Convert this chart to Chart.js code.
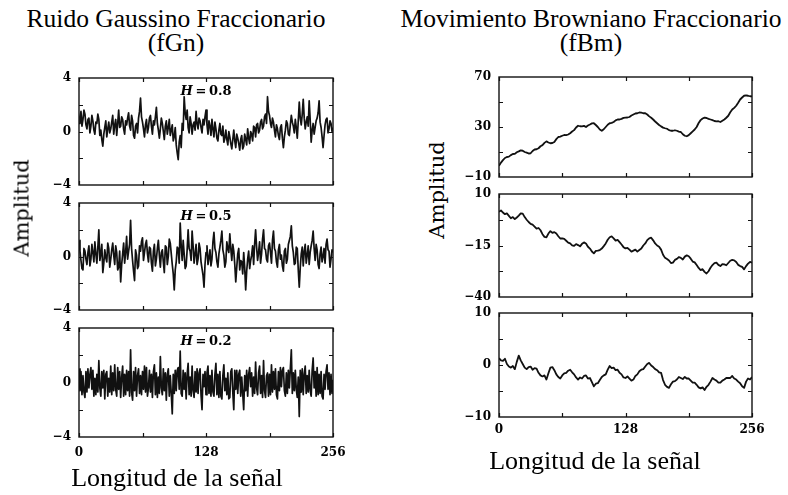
<!DOCTYPE html>
<html><head><meta charset="utf-8">
<script src="https://cdn.jsdelivr.net/npm/chart.js@4"></script>
<style>
html,body{margin:0;padding:0;background:#fff;}
body{width:788px;height:495px;position:relative;overflow:hidden;}
canvas{position:absolute;}
.t{position:absolute;font-family:'Liberation Serif','Times New Roman',serif;color:#000;white-space:nowrap;}
.title{font-size:25.5px;line-height:24px;text-align:center;transform:translateX(-50%);}
.xl{font-size:26px;line-height:26px;transform:translateX(-50%);}
.yl{font-family:'DejaVu Serif',serif;font-size:21px;line-height:21px;transform:translate(-50%,-50%) rotate(-90deg);}
.h{font-family:'DejaVu Serif',serif;font-weight:bold;font-size:13px;line-height:13px;transform:translate(-50%,-50%);}
</style></head><body>
<script>
// ---- data ----
const fgnStep = 1;   // sample spacing of the noise arrays
const fbmStep = 2;   // sample spacing of the fBm arrays
const xTickLabels = [0, 128, 256];
const xMinorTicks = [0, 64, 128, 192, 256];
const hurstLabels = ['0.8', '0.5', '0.2'];

const fgnH08 = [
 0.6,1.1, 1.5,0.4, 0.9,1.6, 1.3,0.5, 0.2,0.9, 1.0,-0.1, 0.4,1.2, 0.8,0.1, -0.2,0.7, 0.6,1.3, 0.9,-0.3, 0.1,-0.6, -1.1,-0.2, 0.3,0.8, -0.4,0.2, 0.7,-0.1,
 0.2,0.7, 1.2,-0.2, 0.5,0.9, -0.3,0.6, 1.6,0.3, 0.4,1.1, 0.9,0.2, -0.2,0.8, 0.5,1.0, 1.4,0.4, 0.1,1.2, 0.8,-0.3, -0.5,0.4, 0.6,-0.1, 1.0,1.5, 2.5,1.1,
 0.7,0.2, -0.4,0.5, 0.9,-0.1, 0.3,1.0, 1.2,0.4, -0.2,0.8, 0.5,1.1, 1.8,0.6, 0.1,-0.5, 0.2,1.0, 0.6,0.0, -0.6,0.4, 0.8,-0.2, 0.3,0.9, -0.3,0.1, 0.5,-0.7,
 -0.4,0.3, -1.0,-1.6, -2.1,-0.8, -0.3,-1.2, 0.6,0.1, 2.6,1.4, 0.9,1.6, 0.3,-0.1, 1.1,0.6, -0.2,0.5, 0.7,0.1, 1.5,0.6, 0.2,1.0, 0.8,0.3, -0.1,0.9, 0.5,1.1,
 1.6,0.5, -0.2,0.8, 0.4,-0.3, 0.9,0.2, -0.4,0.7, 0.2,-0.5, -0.7,0.1, 0.6,-0.2, -0.3,0.4, -0.8,-0.5, 0.1,-0.6, -1.0,0.0, -0.4,-0.9, -1.3,-0.6, 0.1,-0.7, -1.2,-0.2,
 -0.5,-0.9, -1.4,-0.6, -0.3,-1.3, -1.1,-0.2, -0.6,-1.0, 0.2,-0.5, -0.9,0.0, -0.2,-0.7, 0.4,0.3, -0.4,0.5, 0.6,-0.1, 0.1,0.7, 0.9,0.2, 0.4,1.1, 1.3,0.6, 2.6,1.5,
 1.2,0.6, 0.3,1.0, 0.7,0.1, -0.4,0.5, 0.2,-0.3, -0.6,0.3, 0.5,-0.5, -1.2,-0.4, 0.1,0.8, 0.6,-0.2, -0.3,0.5, 1.2,0.7, 0.4,-0.1, 0.9,0.3, -0.5,0.8, 2.2,1.0,
 0.5,1.3, 2.4,1.0, 0.2,0.7, 1.1,0.4, 2.3,0.9, -0.8,0.1, 0.6,-0.2, 0.3,0.8, 1.0,1.4, 2.3,0.7, 0.3,-0.4, -1.2,-0.3, 0.5,0.9, 1.0,-0.1, 0.2,0.8, 0.6,0.0,
 0.3
];
const fgnH05 = [
 1.2,0.4, -0.3,-0.9, -1.0,0.6, 0.4,-0.2, -0.6,0.3, 0.8,-0.7, -0.2,0.9, 0.3,-0.4, 1.1,0.2, -0.5,0.7, 2.0,-0.3, 0.2,0.9, -1.2,-0.5, 0.5,-0.1, -0.4,1.0, 0.6,-0.8,
 -0.2,0.5, 1.0,0.1, -0.6,0.8, 0.3,-1.0, -0.8,0.4, -1.9,-0.6, 0.2,1.0, -0.5,0.3, 1.5,-0.2, 0.4,0.9, 2.7,0.6, -0.3,-1.1, -1.8,0.5, 0.1,-0.9, -0.7,0.8, 0.4,1.1,
 1.4,-0.3, 0.3,0.9, 1.2,0.2, -0.4,0.7, 0.6,-0.5, -1.1,0.4, 0.9,-0.7, -0.2,0.6, 1.2,0.1, -0.8,0.3, 0.5,-0.4, -1.2,0.8, 0.7,-0.6, 0.0,1.3, 1.0,0.2, -0.6,-1.3,
 -2.5,-1.0, -0.4,0.7, 0.6,-0.5, 2.5,0.8, -0.3,1.2, 0.2,-0.9, -0.7,0.5, 2.0,0.6, 0.4,-0.3, 1.9,0.8, -0.5,0.2, 0.9,-0.6, -0.2,1.0, 0.6,-0.4, -0.9,-1.4, -2.3,-0.6,
 0.3,0.8, -0.6,-0.1, 0.5,-0.7, -0.2,1.1, 1.8,0.6, 0.3,-0.4, -0.8,0.2, 0.7,1.2, 1.9,0.5, 0.1,-0.8, -0.4,1.1, 0.6,0.3, 1.7,0.6, -0.3,0.9, 0.4,-0.6, -1.9,-0.8,
 0.2,0.6, -1.0,-0.3, -0.4,-1.3, 0.3,-0.8, -2.5,-1.1, -0.2,0.4, -0.9,-0.3, 0.1,0.8, -0.6,0.9, 2.0,0.7, -0.3,0.3, 1.1,-0.5, 0.2,1.3, 2.0,0.6, 0.5,-0.2, -0.4,0.8,
 1.0,0.3, -0.5,1.2, 1.9,0.6, 0.4,-0.4, -0.8,0.5, 0.9,-0.2, 0.1,-0.7, -1.1,0.4, 0.6,-0.5, -0.2,0.9, 1.2,1.5, 2.3,0.8, 0.3,-0.6, -0.5,0.7, 0.6,-1.0, -2.3,-0.8,
 0.2,0.7, -0.7,0.4, 0.9,-0.5, 0.1,0.8, -0.6,0.3, 0.8,1.2, 1.9,0.6, -0.3,0.9, 0.5,-0.6, -0.9,0.2, 0.7,-0.4, 0.0,0.6, -0.5,0.9, 1.3,0.5, 0.4,-0.8, -0.2,0.5,
 0.3
];
const fgnH02 = [
 1.0,-0.6, 0.8,-0.9, 0.5,-0.7, -1.1,0.8, -0.7,1.0, -0.4,0.6, 1.1,-0.5, 0.9,-1.0, 0.3,-0.9, 0.6,-0.7, 1.6,-0.4, -1.0,0.8, -0.4,0.9, -1.2,0.6, 0.8,-1.0, 0.3,-0.7,
 1.2,-0.9, 0.7,-0.6, 1.3,-0.5, -1.0,1.1, -0.5,0.8, -1.1,0.4, 1.2,-1.0, 0.6,-0.9, 0.9,-0.6, 0.8,-1.0, 2.4,-0.7, -1.3,0.8, -0.6,1.1, -1.0,0.5, 1.0,-0.8, 0.5,-0.9,
 0.8,-0.5, 1.2,-0.7, 1.1,-1.0, -0.4,0.9, -0.7,0.6, -1.1,0.8, 1.3,-0.9, 0.7,-1.1, 0.4,-0.8, 1.9,-0.4, -0.9,1.0, -0.6,0.7, -1.3,0.6, 1.0,-1.0, 0.5,-0.8, -2.3,0.6,
 -0.8,0.9, -0.6,0.9, 1.1,-0.5, 2.3,-0.8, -1.0,0.9, -0.5,0.7, -1.2,0.6, 1.4,-0.9, 0.4,-1.0, 1.2,-0.6, -1.1,0.8, -0.7,1.0, -0.8,0.7, 1.0,-0.9, -2.0,0.6, -0.3,0.8,
 -0.9,0.7, 1.2,-0.8, 0.5,-1.0, 0.9,-0.7, -1.0,0.6, 1.4,-0.9, 0.6,-1.1, 0.8,-1.0, -1.2,0.5, 1.3,-0.6, 0.3,-0.9, 0.7,-1.2, -1.1,0.8, 1.0,-0.7, -2.0,0.9, -0.5,0.9,
 -0.8,0.6, 0.9,-1.0, 0.4,-0.8, -2.0,0.5, -0.6,0.9, -1.0,0.6, 1.1,-0.3, 0.7,-1.0, 0.4,-0.8, 1.5,-0.4, -0.9,0.7, 1.2,-0.8, 0.5,-1.1, 1.6,-0.6, -1.1,0.5, 0.7,-1.0,
 0.6,-0.9, 1.3,-0.7, 0.8,-0.5, 1.0,-0.9, -1.2,0.8, -0.6,1.1, -0.3,0.9, 1.1,-0.6, -1.0,0.7, -0.8,0.9, -0.4,1.0, 2.4,-0.8, 0.7,-0.6, 0.9,-0.5, -1.1,0.4, -2.5,0.9,
 -0.7,1.0, -0.9,0.6, 1.2,-0.8, 0.5,-0.7, 0.9,-0.6, -1.0,0.9, 1.8,-0.4, 0.8,-1.0, 1.1,-0.9, 0.6,-0.8, 0.8,-1.0, -1.2,0.6, -0.5,0.8, 1.3,-0.5, 0.7,-0.9, 0.6,-0.8,
 0.2
];
const fbmH08 = [
 -1,1.5, 3.5,5.2, 6,6.3, 7.5,8.4, 8.5,9.8, 10.5,11.3, 11,10.0, 9.5,8.8, 9,10.8, 12,12.2, 13,14.6, 15.5,17.3, 18.5,17.6, 17,17.2, 18,20.3, 22,22.3,
 23,23.6, 23.5,24.0, 25,26.4, 27.5,29.6, 31,30.6, 30.5,30.9, 30,31.2, 32,32.9, 33,31.6, 30,28.0, 27,28.2, 30,31.8, 33,33.3, 34,35.3, 36,36.0, 36.5,37.3,
 37.5,37.6, 38,39.2, 40,40.8, 41,41.6, 41.5,41.0, 41,40.0, 38.5,37.4, 36,34.4, 33,31.6, 30.5,29.5, 29,28.6, 27.5,27.0, 27,27.4, 27,26.3, 26,24.2, 23,22.6,
 23.5,25.0, 26.5,28.0, 30,33.2, 35.5,36.8, 37.5,37.2, 36.5,36.0, 35.5,34.8, 34.5,34.6, 34,35.0, 36,37.4, 39,41.8, 44,45.3, 47,49.4, 52,53.6, 55,55.3, 55,54.6,
 54.5
];
const fbmH05 = [
 1.4,2.0, 1.0,0.2, 0.6,-0.6, -1.8,-1.2, -2.2,-1.4, -0.5,0.6, 0.5,-1.2, -2.5,-3.6, -4.5,-4.9, -5.8,-6.8, -6.5,-7.6, -9.5,-10.8, -11.0,-9.2, -8.0,-8.9, -8.5,-9.2, -10.5,-11.6,
 -11.5,-11.8, -12.7,-13.6, -14.0,-14.9, -15.2,-14.3, -14.8,-15.4, -14.2,-13.5, -14.0,-15.6, -16.5,-17.9, -18.8,-17.6, -17.5,-17.2, -16.5,-15.3, -14.0,-12.2, -11.0,-10.6, -11.5,-12.6, -12.3,-13.4, -14.5,-15.8,
 -16.4,-16.2, -17.0,-18.0, -17.5,-17.0, -18.0,-17.2, -16.5,-15.0, -14.0,-12.4, -11.5,-11.2, -12.5,-14.0, -15.0,-15.6, -17.0,-19.5, -21.0,-21.6, -22.3,-23.5, -23.3,-22.0, -21.5,-20.6, -21.0,-21.8, -20.4,-19.8,
 -20.2,-21.4, -22.8,-23.2, -24.5,-25.9, -26.9,-26.5, -27.8,-28.6, -27.5,-25.8, -24.5,-23.6, -23.3,-24.4, -25.0,-24.0, -24.2,-24.6, -23.5,-22.4, -22.0,-22.2, -23.0,-24.4, -25.0,-25.4, -26.6,-25.0, -23.8,-23.0,
 -23.3
];
const fbmH02 = [
 1.3,0.9, 0.8,1.2, 0.2,-0.3, -0.5,-0.2, -0.8,0.6, 1.8,0.9, 0.2,-0.5, -0.8,-0.4, -0.3,-0.9, -0.6,-0.7, -1.5,-2.0, -2.2,-2.0, -2.8,-1.6, -0.5,-0.4, -1.0,-1.8, -2.3,-2.6,
 -2.0,-1.6, -1.5,-1.1, -0.9,-1.4, -1.8,-2.4, -2.8,-2.4, -2.6,-2.1, -2.0,-2.6, -2.5,-3.3, -4.1,-3.6, -3.5,-2.9, -2.3,-2.0, -1.8,-0.9, -0.2,-0.6, -0.5,-1.0, -0.9,-1.5, -1.8,-2.4,
 -2.5,-2.2, -2.6,-3.0, -2.8,-2.1, -1.8,-1.2, -0.9,-0.8, -0.3,0.2, 0.4,-0.1, -0.4,-0.8, -1.0,-1.4, -1.5,-2.9, -3.8,-4.2, -4.4,-3.7, -3.2,-3.1, -2.8,-2.3, -2.5,-2.7, -2.3,-2.6,
 -2.6,-3.0, -3.4,-3.4, -3.8,-4.3, -4.5,-4.3, -4.8,-4.2, -3.8,-3.2, -2.5,-2.8, -3.0,-3.4, -3.4,-3.0, -2.8,-2.5, -2.5,-2.5, -2.1,-2.6, -2.8,-3.2, -3.5,-4.1, -4.4,-3.2, -2.6,-2.8,
 -2.3
];

const fgnYLabels = [-4, 0, 4];
const fgnYMinor = [-2, 0, 2];
const fbmYLabels = [[-10, 30, 70], [-40, -15, 10], [-10, 0, 10]];
const fbmYMinor = [[10, 30, 50], [-27.5, -15, -2.5], [-5, 0, 5]];
const fbmRanges = [[-10, 70], [-40, 10], [-10, 10]];

// ---- layout ----
const leftBoxes = [{L:79,R:333,T:78,B:185},{L:79,R:333,T:203,B:310},{L:79,R:333,T:328,B:437}];
const rightBoxes = [{L:499,R:752,T:77,B:177},{L:499,R:752,T:194,B:297},{L:499,R:752,T:313,B:417}];
const tickFont = {family:"'DejaVu Serif', serif", size:12, weight:'bold'};
const fmt = v => (v < 0 ? '\u2212' + Math.abs(v) : String(v));

const framePlugin = {
  id:'frame',
  afterDraw(chart, args, opts){
    const {ctx, chartArea:a, scales:{x, y}} = chart;
    ctx.save();
    ctx.strokeStyle = '#111';
    ctx.lineWidth = 1.4;
    ctx.strokeRect(a.left, a.top, a.right - a.left, a.bottom - a.top);
    ctx.lineWidth = 1.2;
    ctx.beginPath();
    for (const v of xMinorTicks) {
      const px = Math.round(x.getPixelForValue(v)) + 0.5;
      ctx.moveTo(px, a.top); ctx.lineTo(px, a.top + 4);
      ctx.moveTo(px, a.bottom); ctx.lineTo(px, a.bottom - 4);
    }
    for (const v of opts.yMinor) {
      const py = Math.round(y.getPixelForValue(v)) + 0.5;
      ctx.moveTo(a.left, py); ctx.lineTo(a.left + 4, py);
      ctx.moveTo(a.right, py); ctx.lineTo(a.right - 4, py);
    }
    ctx.stroke();
    ctx.restore();
  }
};

function makePanel(box, values, step, yMin, yMax, yLabels, yMinor, showX, lw, xPad) {
  const padL = 50, padT = 10, padR = 16, padB = showX ? 30 : 10;
  const c = document.createElement('canvas');
  const w = box.R - box.L + padL + padR, h = box.B - box.T + padT + padB;
  c.width = w; c.height = h;
  c.style.left = (box.L - padL) + 'px';
  c.style.top = (box.T - padT) + 'px';
  c.style.width = w + 'px'; c.style.height = h + 'px';
  document.body.appendChild(c);
  new Chart(c, {
    type:'line',
    data:{datasets:[{data:values.map((v, i) => ({x:i * step, y:v})), borderColor:'#111', borderWidth:lw,
      pointRadius:0, tension:0, fill:false, borderJoinStyle:'round'}]},
    options:{
      responsive:false, animation:false, devicePixelRatio:1,
      layout:{padding:{left:0, top:padT, right:padR, bottom:0}},
      plugins:{legend:{display:false}, tooltip:{enabled:false}, frame:{yMinor}},
      scales:{
        x:{type:'linear', min:0, max:256,
          afterBuildTicks:s => { s.ticks = xTickLabels.map(v => ({value:v})); },
          ticks:{display:showX, font:tickFont, color:'#000', padding:xPad, maxRotation:0, autoSkip:false},
          grid:{display:false, drawTicks:false}, border:{display:false},
          afterFit:s => { s.height = padB; s.paddingLeft = 0; s.paddingRight = 0; }},
        y:{min:yMin, max:yMax,
          afterBuildTicks:s => { s.ticks = yLabels.map(v => ({value:v})); },
          ticks:{font:tickFont, color:'#000', padding:8, callback:v => fmt(v)},
          grid:{display:false, drawTicks:false}, border:{display:false},
          afterFit:s => { s.width = padL; s.paddingTop = 0; s.paddingBottom = 0; }}
      }
    },
    plugins:[framePlugin]
  });
}

const fgnSeries = [fgnH08, fgnH05, fgnH02];
const fbmSeries = [fbmH08, fbmH05, fbmH02];
fgnSeries.forEach((s, i) => makePanel(leftBoxes[i], s, fgnStep, -4, 4, fgnYLabels, fgnYMinor, i === 2, 1.7, 9));
fbmSeries.forEach((s, i) => makePanel(rightBoxes[i], s, fbmStep, fbmRanges[i][0], fbmRanges[i][1], fbmYLabels[i], fbmYMinor[i], i === 2, 1.8, 6));

function addText(cls, html, x, y) {
  const d = document.createElement('div');
  d.className = 't ' + cls;
  d.innerHTML = html;
  d.style.left = x + 'px'; d.style.top = y + 'px';
  document.body.appendChild(d);
}
addText('title', 'Ruido Gaussino Fraccionario<br>(fGn)', 176, 7);
addText('title', 'Movimiento Browniano Fraccionario<br>(fBm)', 591, 7);
addText('xl', 'Longitud de la señal', 177, 465);
addText('xl', 'Longitud de la señal', 595, 448);
addText('yl', 'Amplitud', 22, 208);
addText('yl', 'Amplitud', 437, 190);
hurstLabels.forEach((h, i) => addText('h', '<i>H</i>\u2009=\u20090.' + h.slice(2), 206, leftBoxes[i].T + 12));
</script>
</body></html>
